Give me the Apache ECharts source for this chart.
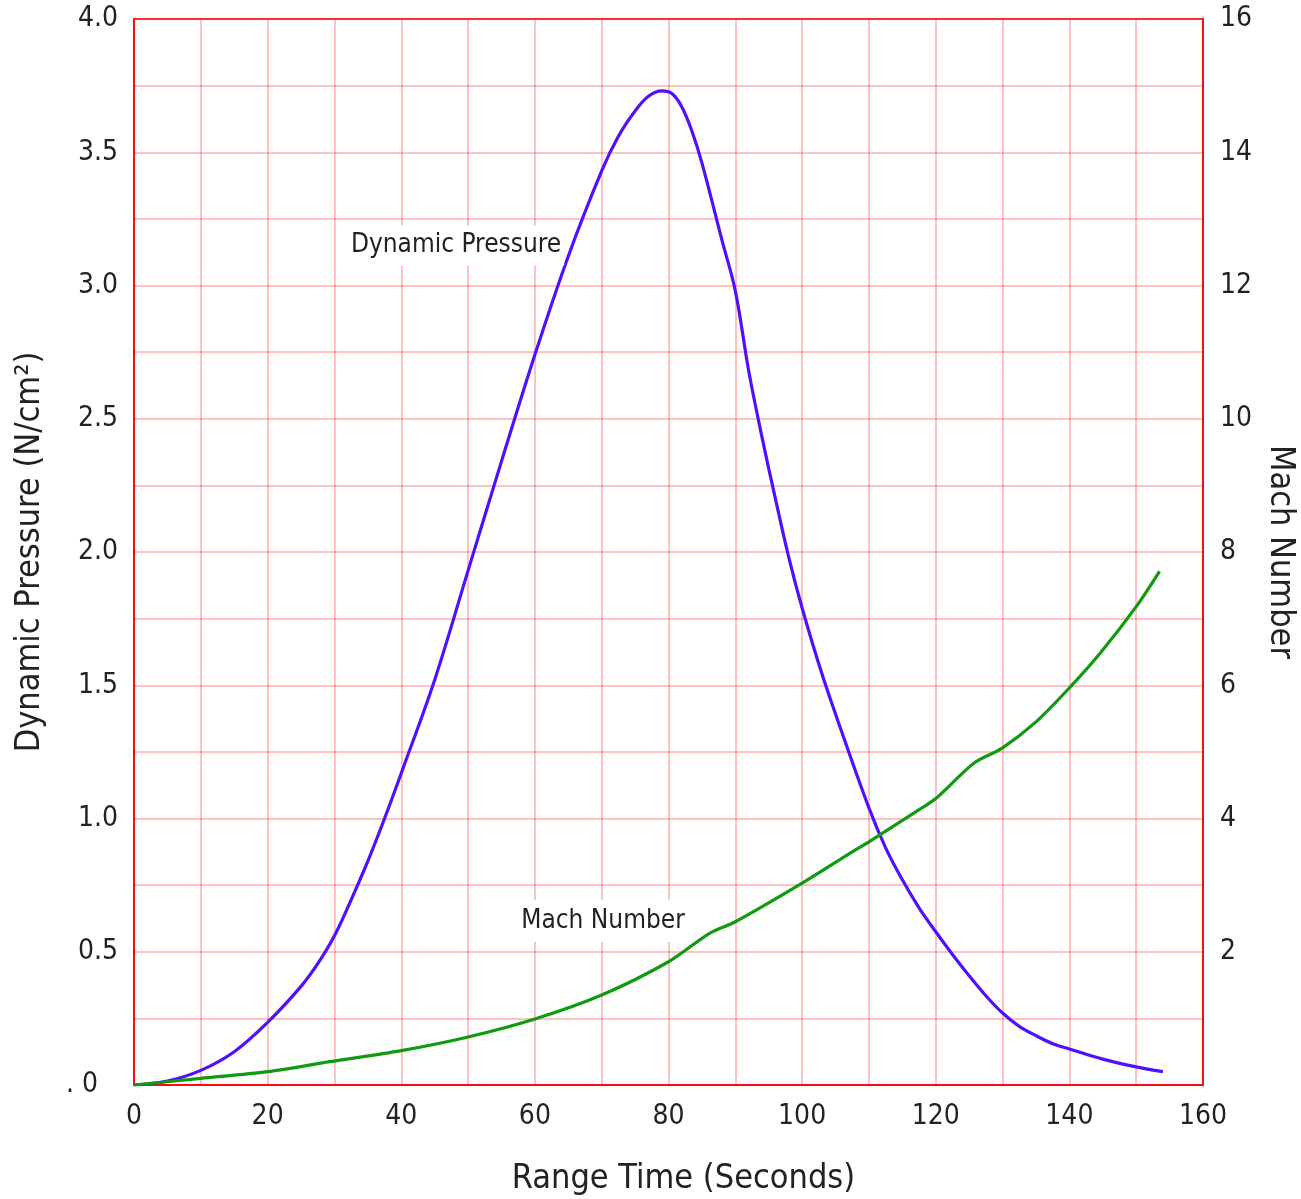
<!DOCTYPE html>
<html>
<head>
<meta charset="utf-8">
<script src="https://cdn.jsdelivr.net/npm/echarts@6/dist/echarts.min.js"></script>
<style>
html,body{margin:0;padding:0;background:#fff;}
#chart{width:1301px;height:1199px;}
</style>
</head>
<body>
<div id="chart"></div>
<script>
// Range time (s) and dynamic pressure (N/cm²)
const pressureTime = [0, 5, 10, 15, 20, 25, 27.5, 30, 32.5, 35, 37.5, 40, 45, 50, 55, 60, 65, 70, 72.5, 75, 77, 79, 80.5, 82, 83.5, 85, 88, 90, 92, 94, 96, 98, 100, 103, 106, 110, 112.5, 115, 117.5, 120, 122.5, 125, 127.5, 130, 132.5, 135, 137.5, 140, 145, 150, 154];
const pressureValue = [0, 0.015, 0.055, 0.125, 0.235, 0.37, 0.455, 0.56, 0.695, 0.84, 1.0, 1.17, 1.52, 1.93, 2.34, 2.74, 3.11, 3.43, 3.56, 3.655, 3.71, 3.73, 3.72, 3.67, 3.58, 3.46, 3.17, 2.98, 2.68, 2.43, 2.2, 1.98, 1.79, 1.54, 1.32, 1.04, 0.89, 0.77, 0.665, 0.575, 0.49, 0.41, 0.335, 0.27, 0.22, 0.185, 0.155, 0.135, 0.097, 0.068, 0.05];
// Range time (s) and Mach number
const machTime = [0, 10, 20, 29.3, 40, 50, 60, 70, 80, 86.2, 90, 100, 107.2, 110, 117, 120, 125.7, 130, 135, 140, 144.6, 150, 153.5];
const machValue = [0, 0.1, 0.2, 0.35, 0.515, 0.72, 0.99, 1.35, 1.85, 2.28, 2.45, 3.03, 3.48, 3.65, 4.1, 4.3, 4.83, 5.06, 5.45, 5.96, 6.48, 7.18, 7.71];
// Axis tick labels
const xTicks = [0, 20, 40, 60, 80, 100, 120, 140, 160];
const pressureTicks = ['. 0', '0.5', '1.0', '1.5', '2.0', '2.5', '3.0', '3.5', '4.0'];
const machTicks = ['', '2', '4', '6', '8', '10', '12', '14', '16'];
// Annotation labels (in data units)
const pressureLabel = {text: 'Dynamic Pressure', t: 48.2, v: 3.15};
const machLabel = {text: 'Mach Number', t: 70.2, v: 2.46};

const FONT = "'Liberation Sans Narrow', 'DejaVu Sans Condensed', 'Liberation Sans', sans-serif";
const pressureData = pressureTime.map((t, i) => [t, pressureValue[i]]);
const machData = machTime.map((t, i) => [t, machValue[i]]);

const chart = echarts.init(document.getElementById('chart'), null, {renderer: 'canvas'});
const gridRed = 'rgba(255,0,0,0.32)';
const option = {
  backgroundColor: '#fff',
  animation: false,
  grid: {left: 134, right: 98, top: 19, bottom: 114, show: true, borderColor: '#ff0000', borderWidth: 1.5, containLabel: false, outerBoundsMode: 'none'},
  xAxis: {
    type: 'value', min: 0, max: 160, interval: 10,
    axisLine: {show: true, lineStyle: {color: '#ff0000', width: 1.5}},
    axisTick: {show: false},
    splitLine: {show: true, lineStyle: {color: gridRed, width: 1.5}},
    axisLabel: {
      margin: 18, color: '#222', fontFamily: FONT, fontSize: 28,
      formatter: v => { const i = xTicks.indexOf(v); return i >= 0 ? String(xTicks[i]) : ''; }
    },
    name: 'Range Time (Seconds)', nameLocation: 'middle', nameGap: 77,
    nameTextStyle: {color: '#222', fontFamily: FONT, fontSize: 34, padding: [0, 0, 0, 30]}
  },
  yAxis: [{
    type: 'value', min: 0, max: 4, interval: 0.25,
    axisLine: {show: true, lineStyle: {color: '#ff0000', width: 1.5}},
    axisTick: {show: false},
    splitLine: {show: true, lineStyle: {color: gridRed, width: 1.5}},
    axisLabel: {
      margin: 16, color: '#222', fontFamily: FONT, fontSize: 28,
      formatter: v => {
        const k = Math.round(v * 2);
        if (Math.abs(v * 2 - k) > 1e-6) return '';
        return k === 0 ? '{z|' + pressureTicks[0] + '}' : pressureTicks[k];
      },
      rich: {z: {color: '#222', fontFamily: FONT, fontSize: 28, padding: [0, 20, 0, 0]}}
    },
    name: 'Dynamic Pressure (N/cm²)', nameLocation: 'middle', nameGap: 87, nameRotate: 90,
    nameTextStyle: {color: '#222', fontFamily: FONT, fontSize: 34}
  }, {
    type: 'value', min: 0, max: 16, interval: 2, position: 'right',
    axisLine: {show: true, lineStyle: {color: '#ff0000', width: 1.5}},
    axisTick: {show: false},
    splitLine: {show: false},
    axisLabel: {
      margin: 17, color: '#222', fontFamily: FONT, fontSize: 28,
      formatter: v => machTicks[Math.round(v / 2)] || ''
    },
    name: 'Mach Number', nameLocation: 'middle', nameGap: 59, nameRotate: -90,
    nameTextStyle: {color: '#222', fontFamily: FONT, fontSize: 34}
  }],
  series: [{
    type: 'line', name: 'Dynamic Pressure', yAxisIndex: 0, data: pressureData,
    smooth: 0.35, showSymbol: false, symbol: 'none',
    lineStyle: {color: '#5010ff', width: 3.2}, z: 3,
    markPoint: {
      symbol: 'rect', symbolSize: 0.01, silent: true, animation: false,
      data: [{coord: [pressureLabel.t, pressureLabel.v], name: pressureLabel.text}],
      label: {show: true, position: 'inside', formatter: pressureLabel.text, color: '#222', fontFamily: FONT, fontSize: 26, backgroundColor: '#fff', padding: [7, 3]}
    }
  }, {
    type: 'line', name: 'Mach Number', yAxisIndex: 1, data: machData,
    smooth: 0.3, showSymbol: false, symbol: 'none',
    lineStyle: {color: '#109a10', width: 3.2}, z: 3,
    markPoint: {
      symbol: 'rect', symbolSize: 0.01, silent: true, animation: false,
      data: [{coord: [machLabel.t, machLabel.v], name: machLabel.text}],
      label: {show: true, position: 'inside', formatter: machLabel.text, color: '#222', fontFamily: FONT, fontSize: 26, backgroundColor: '#fff', padding: [8, 3]}
    }
  }]
};
chart.setOption(option);
</script>
</body>
</html>
